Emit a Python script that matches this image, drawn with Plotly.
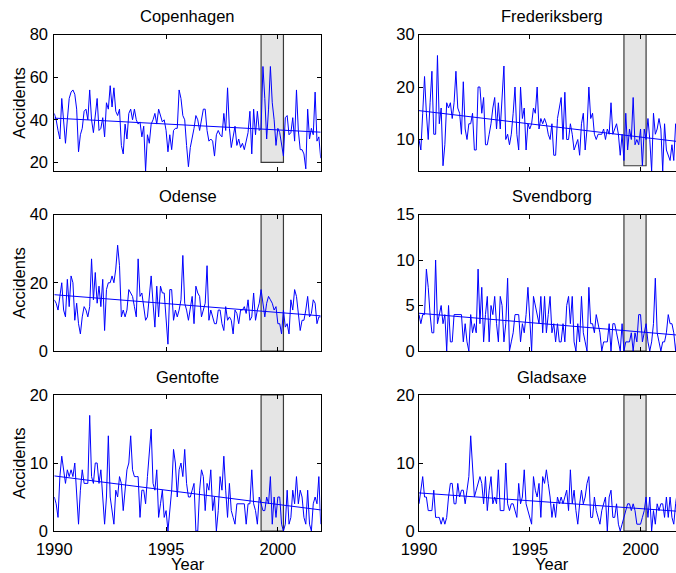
import plotly.graph_objects as go

W, H = 676, 573

names = ["Copenhagen", "Frederiksberg", "Odense", "Svendborg", "Gentofte", "Gladsaxe"]

copenhagen = [
    43, 40, 35, 31, 50, 38, 29, 40, 50, 53, 54, 52,
    45, 25, 33, 36, 44, 45, 40, 54, 40, 34, 42, 50,
    35, 36, 41, 32, 48, 45, 56, 46, 55, 44, 42, 45,
    28, 24, 38, 31, 43, 45, 40, 45, 40, 38, 39, 32,
    37, 16, 33, 29, 38, 40, 43, 38, 45, 42, 39, 40,
    35, 25, 33, 26, 35, 36, 36, 54, 50, 42, 40, 28,
    18, 27, 31, 36, 42, 40, 35, 41, 45, 45, 35, 30,
    31, 30, 23, 33, 35, 33, 32, 43, 35, 55, 36, 27,
    32, 37, 28, 31, 27, 29, 26, 30, 34, 44, 24, 45,
    33, 44, 35, 36, 65, 50, 31, 45, 65, 48, 40, 28,
    36, 34, 28, 23, 41, 42, 33, 34, 41, 30, 54, 35,
    26, 26, 24, 17, 45, 31, 36, 33, 53, 30, 32, 22,
]
frederiksberg = [
    10, 8, 15, 22, 15, 10, 17, 23, 11, 11, 26, 13,
    16, 5, 9, 17, 16, 17, 14, 17, 23, 16, 15, 11,
    21, 12, 10, 13, 13, 15, 8, 8, 20, 20, 15, 18,
    9, 9, 11, 13, 16, 18, 12, 17, 12, 18, 24, 10,
    11, 9, 11, 15, 20, 11, 8, 20, 14, 16, 8, 13,
    12, 13, 16, 15, 20, 12, 14, 13, 14, 13, 11, 10,
    13, 7, 7, 14, 16, 18, 10, 19, 10, 10, 13, 11,
    8, 9, 10, 7, 13, 15, 8, 12, 20, 14, 15, 11,
    10, 11, 11, 11, 12, 10, 12, 11, 17, 11, 12, 13,
    11, 7, 11, 6, 15, 8, 12, 10, 18, 9, 10, 9,
    12, 5, 12, 10, 14, 10, 4, 15, 11, 12, 14, 12,
    4, 13, 8, 7, 6, 9, 6, 13, 11, 9, 12, 8,
]
odense = [
    15, 14, 12, 17, 20, 12, 10, 21, 13, 22, 20, 9,
    14, 8, 5, 10, 13, 12, 10, 13, 27, 15, 23, 14,
    19, 13, 21, 6, 18, 20, 20, 22, 20, 24, 31, 25,
    10, 12, 10, 12, 18, 17, 16, 13, 10, 27, 16, 17,
    13, 9, 10, 15, 22, 14, 7, 19, 10, 19, 17, 17,
    10, 2, 18, 18, 9, 12, 10, 12, 15, 28, 14, 12,
    9, 12, 16, 8, 19, 17, 16, 10, 12, 14, 25, 9,
    12, 10, 8, 8, 12, 12, 8, 6, 13, 9, 10, 9,
    5, 12, 11, 8, 12, 12, 13, 11, 15, 9, 10, 17,
    9, 12, 14, 18, 13, 10, 14, 16, 15, 14, 12, 13,
    8, 8, 5, 12, 7, 8, 5, 15, 12, 18, 16, 10,
    6, 9, 9, 12, 16, 10, 11, 15, 14, 8, 10, 10,
]
svendborg = [
    4, 3, 4, 4, 9, 7, 4, 2, 2, 10, 3, 4,
    5, 3, 4, 0, 5, 1, 1, 4, 4, 4, 4, 4,
    1, 3, 1, 0, 4, 2, 3, 2, 9, 3, 7, 1,
    4, 6, 1, 5, 4, 6, 3, 1, 6, 5, 1, 3,
    8, 0, 1, 2, 4, 4, 4, 1, 3, 2, 4, 7,
    4, 0, 6, 5, 4, 3, 6, 2, 6, 2, 4, 6,
    2, 3, 1, 3, 1, 1, 3, 1, 5, 6, 3, 6,
    1, 0, 3, 1, 6, 2, 1, 0, 7, 3, 3, 2,
    4, 3, 2, 0, 1, 1, 1, 3, 0, 3, 3, 2,
    1, 0, 3, 0, 1, 1, 1, 2, 0, 2, 1, 4,
    4, 1, 2, 3, 1, 0, 1, 3, 8, 2, 1, 0,
    1, 1, 2, 4, 3, 3, 2, 0, 2, 2, 1, 2,
]
gentofte = [
    5, 4, 2, 8, 11, 9, 7, 9, 8, 9, 8, 10,
    5, 1, 6, 9, 7, 7, 7, 17, 8, 7, 10, 10,
    7, 9, 5, 1, 5, 14, 5, 3, 1, 6, 5, 8,
    7, 3, 6, 9, 10, 14, 9, 8, 8, 8, 2, 6,
    6, 4, 8, 12, 15, 7, 6, 9, 2, 4, 6, 2,
    3, 0, 3, 6, 12, 10, 5, 9, 10, 8, 12, 7,
    5, 5, 6, 7, 0, 0, 6, 9, 8, 3, 7, 6,
    9, 3, 5, 0, 3, 8, 6, 11, 6, 2, 7, 3,
    2, 1, 4, 4, 4, 4, 4, 1, 4, 4, 9, 4,
    3, 1, 5, 4, 3, 3, 5, 4, 8, 1, 5, 2,
    5, 5, 1, 0, 1, 6, 1, 2, 6, 4, 8, 4,
    6, 5, 2, 1, 6, 1, 0, 4, 5, 4, 8, 1,
]
gladsaxe = [
    4, 6, 8, 5, 5, 3, 3, 3, 6, 2, 2, 2,
    1, 2, 1, 2, 5, 7, 7, 4, 4, 7, 5, 6,
    6, 4, 6, 8, 14, 10, 5, 6, 7, 8, 7, 4,
    8, 3, 6, 8, 4, 5, 4, 9, 3, 3, 3, 10,
    4, 3, 4, 4, 3, 2, 7, 4, 5, 9, 4, 3,
    2, 1, 8, 6, 5, 7, 2, 8, 7, 9, 7, 5,
    2, 4, 2, 5, 4, 5, 4, 5, 6, 3, 9, 4,
    6, 3, 1, 4, 6, 4, 5, 7, 8, 2, 2, 5,
    3, 2, 1, 3, 4, 5, 0, 5, 6, 2, 2, 4,
    1, 0, 1, 2, 3, 4, 4, 3, 4, 3, 1, 1,
    1, 2, 3, 5, 2, 5, 0, 3, 1, 4, 3, 4,
    4, 2, 5, 2, 5, 2, 1, 4, 6, 3, 5, 4,
]
series = [copenhagen, frederiksberg, odense, svendborg, gentofte, gladsaxe]

start_year = 1990
years = [start_year + m / 12 for m in range(len(copenhagen))]

y_ranges = [[16, 80], [4, 30], [0, 40], [0, 15], [0, 20], [0, 20]]
y_ticks = [[20, 40, 60, 80], [10, 20, 30], [0, 20, 40], [0, 5, 10, 15], [0, 10, 20], [0, 10, 20]]
x_ticks = [1990, 1995, 2000]

trend_start = [40.8, 15.5, 16.5, 4.15, 8.1, 5.6]
trend_end = [34.2, 9.5, 10.3, 1.7, 3.1, 2.85]

rect_x = [1999.25, 2000.25]
rect_y0 = [20, 5, 0, 0, 0, 0]

# layout in pixels
col_px = [(54.3, 320.7), (419.0, 676.0)]
col_range_end = [years[-1], 2001.6]
row_px = [(34.5, 171.0), (214.5, 351.0), (395.0, 531.0)]
col_center = [187.5, 552.0]
ylab_standoff = [2, 0]

FONT = "Liberation Sans, Arial, Helvetica, sans-serif"
FS = 16.5
BLUE = "#0000ff"

fig = go.Figure()
layout = dict(
    width=W, height=H,
    margin=dict(l=0, r=0, t=0, b=0, autoexpand=False),
    paper_bgcolor="white", plot_bgcolor="white",
    showlegend=False,
    font=dict(family=FONT, size=FS, color="black"),
)
shapes = []
annotations = []

for k, name in enumerate(names):
    row, col = divmod(k, 2)
    n = k + 1
    xs = "" if n == 1 else str(n)
    x0p, x1p = col_px[col]
    ytop, ybot = row_px[row]
    layout["xaxis" + xs] = dict(
        domain=[x0p / W, x1p / W],
        range=[start_year, col_range_end[col]],
        tickvals=x_ticks, ticktext=[str(t) for t in x_ticks],
        showticklabels=(row == 2), ticklabelstandoff=3,
        ticks="inside", ticklen=4, tickcolor="black", tickwidth=1,
        showline=True, linecolor="black", linewidth=1, mirror="allticks",
        showgrid=False, zeroline=False, anchor="y" + xs, automargin=False,
        tickfont=dict(family=FONT, size=FS, color="black"),
    )
    layout["yaxis" + xs] = dict(
        domain=[1 - ybot / H, 1 - ytop / H],
        range=y_ranges[k], tickvals=y_ticks[k],
        ticklabelstandoff=ylab_standoff[col],
        ticks="inside", ticklen=4, tickcolor="black", tickwidth=1,
        showline=True, linecolor="black", linewidth=1,
        mirror=("allticks" if col == 0 else False),
        showgrid=False, zeroline=False, anchor="x" + xs, automargin=False,
        tickfont=dict(family=FONT, size=FS, color="black"),
    )
    shapes.append(dict(
        type="rect", xref="x" + xs, yref="y" + xs,
        x0=rect_x[0], x1=rect_x[1], y0=rect_y0[k], y1=y_ranges[k][1],
        fillcolor="#e5e5e5", line=dict(color="#3a3a3a", width=1.2), layer="below",
    ))
    fig.add_trace(go.Scatter(
        x=years, y=series[k], mode="lines",
        line=dict(color=BLUE, width=1), xaxis="x" + xs, yaxis="y" + xs,
        hoverinfo="skip",
    ))
    fig.add_trace(go.Scatter(
        x=[years[0], years[-1]], y=[trend_start[k], trend_end[k]], mode="lines",
        line=dict(color=BLUE, width=1), xaxis="x" + xs, yaxis="y" + xs,
        hoverinfo="skip",
    ))
    annotations.append(dict(
        text=name, xref="paper", yref="paper",
        x=col_center[col] / W, y=1 - (ytop - 18) / H,
        xanchor="center", yanchor="middle", showarrow=False,
        font=dict(family=FONT, size=FS, color="black"),
    ))
    if col == 0:
        annotations.append(dict(
            text="Accidents", xref="paper", yref="paper",
            x=19 / W, y=1 - (ytop + ybot) / 2 / H, textangle=-90,
            xanchor="center", yanchor="middle", showarrow=False,
            font=dict(family=FONT, size=FS, color="black"),
        ))
    if row == 2:
        annotations.append(dict(
            text="Year", xref="paper", yref="paper",
            x=col_center[col] / W, y=1 - 564 / H,
            xanchor="center", yanchor="middle", showarrow=False,
            font=dict(family=FONT, size=FS, color="black"),
        ))

layout["shapes"] = shapes
layout["annotations"] = annotations
fig.update_layout(**layout)
fig.write_html("out.html")
